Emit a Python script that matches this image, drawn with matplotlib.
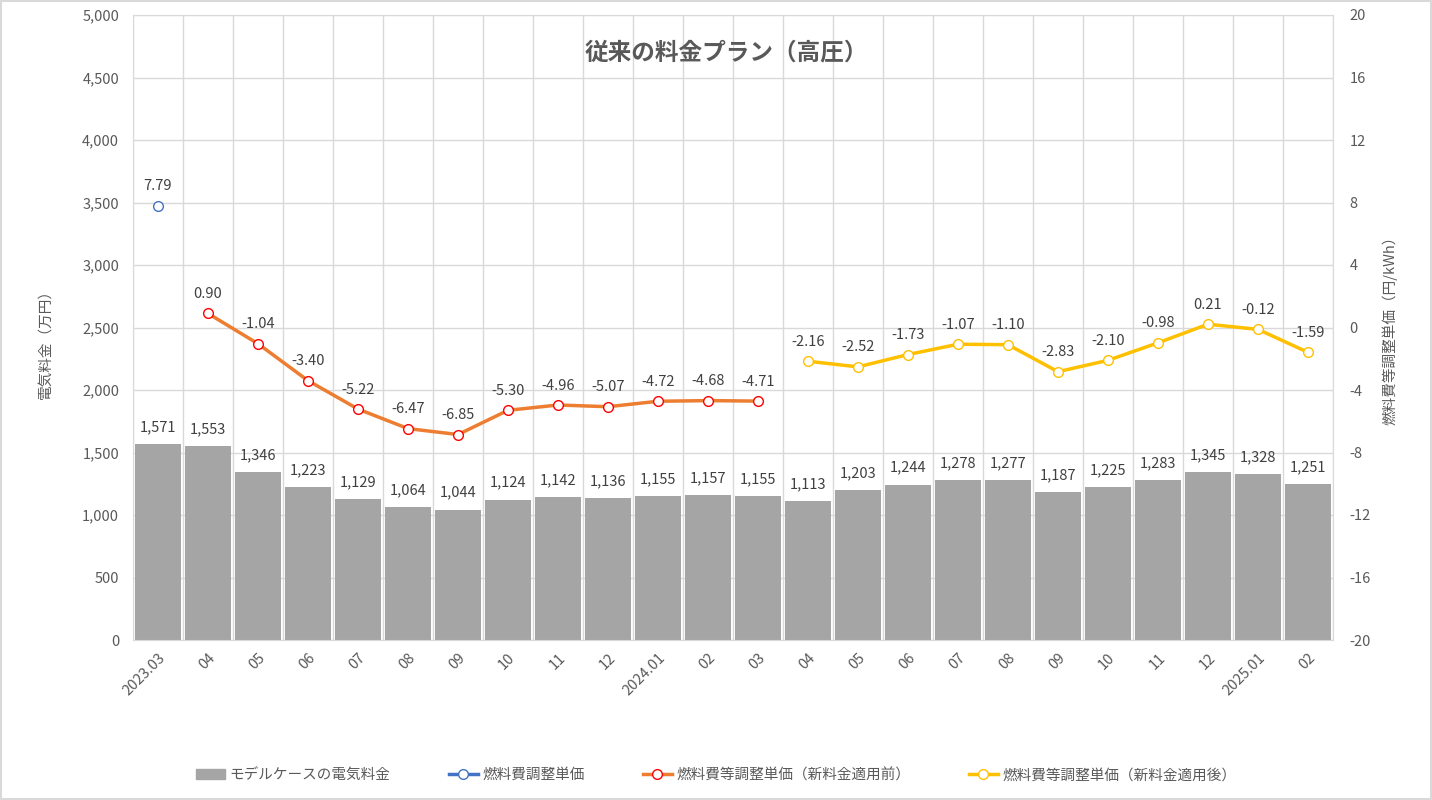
import numpy as np
import matplotlib
matplotlib.use("Agg")
import matplotlib.pyplot as plt
from matplotlib.lines import Line2D
from matplotlib.patches import Patch

plt.rcParams['font.family'] = ['Noto Sans CJK JP', 'DejaVu Sans']
plt.rcParams['axes.unicode_minus'] = False

# Data
months = ["2023.03", "04", "05", "06", "07", "08", "09", "10", "11", "12",
          "2024.01", "02", "03", "04", "05", "06", "07", "08", "09", "10",
          "11", "12", "2025.01", "02"]
bill = [1571, 1553, 1346, 1223, 1129, 1064, 1044, 1124, 1142, 1136, 1155, 1157,
        1155, 1113, 1203, 1244, 1278, 1277, 1187, 1225, 1283, 1345, 1328, 1251]
fuel_idx = [0]
fuel_val = [7.79]
before_idx = list(range(1, 13))
before_val = [0.90, -1.04, -3.40, -5.22, -6.47, -6.85, -5.30, -4.96, -5.07,
              -4.72, -4.68, -4.71]
after_idx = list(range(13, 24))
after_val = [-2.16, -2.52, -1.73, -1.07, -1.10, -2.83, -2.10, -0.98, 0.21,
             -0.12, -1.59]

TXT = '#595959'
LBL = '#404040'
GRID = '#D9D9D9'
BAR = '#A5A5A5'
BLUE = '#4472C4'
ORANGE = '#ED7D31'
RED = '#FF0000'
YELLOW = '#FFC000'

fig = plt.figure(figsize=(14.32, 8), dpi=100)
fig.patches.append(plt.Rectangle((0.0005, 0.001), 0.999, 0.998, transform=fig.transFigure,
                                 fill=False, edgecolor=GRID, linewidth=1.5))
ax = fig.add_axes([133 / 1432, 160 / 800, 1200 / 1432, 625 / 800])
ax2 = ax.twinx()

x = np.arange(len(months))
bars = ax.bar(x, bill, width=0.92, color=BAR, zorder=2)
ax.set_xlim(-0.5, len(months) - 0.5)
ax.set_ylim(0, 5000)
ax.set_yticks(np.arange(0, 5001, 500))
ax.set_yticklabels([f"{v:,}" for v in range(0, 5001, 500)])
ax.set_xticks(x)
ax.set_xticklabels(months, rotation=45, ha='right', rotation_mode='anchor')
ax.set_xticks(np.arange(-0.5, len(months), 1), minor=True)
ax.grid(True, axis='y', color=GRID, linewidth=1, zorder=0)
ax.grid(True, axis='x', which='minor', color=GRID, linewidth=1, zorder=0)
ax.tick_params(axis='x', which='both', length=0, colors=TXT, labelsize=10.5, pad=8)
ax.tick_params(axis='y', length=0, colors=TXT, labelsize=10.5, pad=10)
for s in ax.spines.values():
    s.set_color(GRID)
for s in ax2.spines.values():
    s.set_visible(False)

for xi, v in zip(x, bill):
    ax.annotate(f"{v:,}", (xi, v), xytext=(0, 7), textcoords='offset points',
                ha='center', va='bottom', fontsize=10.5, color=LBL)

ax2.set_ylim(-20, 20)
ax2.set_yticks(np.arange(-20, 21, 4))
ax2.tick_params(axis='y', length=0, colors=TXT, labelsize=10.5, pad=12)

ax2.plot(fuel_idx, fuel_val, color=BLUE, linewidth=2.5, marker='o', markersize=7,
         markerfacecolor='white', markeredgecolor=BLUE, zorder=3)
ax2.plot(before_idx, before_val, color=ORANGE, linewidth=2.5, marker='o', markersize=7,
         markerfacecolor='white', markeredgecolor=RED, zorder=3)
ax2.plot(after_idx, after_val, color=YELLOW, linewidth=2.5, marker='o', markersize=7,
         markerfacecolor='white', markeredgecolor=YELLOW, zorder=3)
for idx, vals in [(fuel_idx, fuel_val), (before_idx, before_val), (after_idx, after_val)]:
    for xi, v in zip(idx, vals):
        ax2.annotate(f"{v:.2f}", (xi, v), xytext=(0, 9), textcoords='offset points',
                     ha='center', va='bottom', fontsize=10.5, color=LBL)

fig.text(726 / 1432, 1 - 52 / 800, "従来の料金プラン（高圧）", ha='center',
         va='center', fontsize=17, fontweight='bold', color=TXT)
fig.text(45 / 1432, 1 - 340 / 800, "電気料金（万円）", rotation=90, ha='center',
         va='center', fontsize=10.5, color=TXT)
fig.text(1390 / 1432, 1 - 327 / 800, "燃料費等調整単価（円/kWh）", rotation=90,
         ha='center', va='center', fontsize=10.5, color=TXT)

handles = [
    Patch(facecolor=BAR, edgecolor=BAR),
    Line2D([], [], color=BLUE, linewidth=2.5, marker='o', markersize=7,
           markerfacecolor='white', markeredgecolor=BLUE),
    Line2D([], [], color=ORANGE, linewidth=2.5, marker='o', markersize=7,
           markerfacecolor='white', markeredgecolor=RED),
    Line2D([], [], color=YELLOW, linewidth=2.5, marker='o', markersize=7,
           markerfacecolor='white', markeredgecolor=YELLOW),
]
labels = ["モデルケースの電気料金", "燃料費調整単価", "燃料費等調整単価（新料金適用前）",
          "燃料費等調整単価（新料金適用後）"]
leg = fig.legend(handles, labels, loc='center', bbox_to_anchor=(0.5, 1 - 775 / 800),
                 ncol=4, frameon=False, fontsize=10.5, columnspacing=4.0,
                 handlelength=2.0, handletextpad=0.3)
for t in leg.get_texts():
    t.set_color(TXT)

fig.savefig("out.png", dpi=100)
